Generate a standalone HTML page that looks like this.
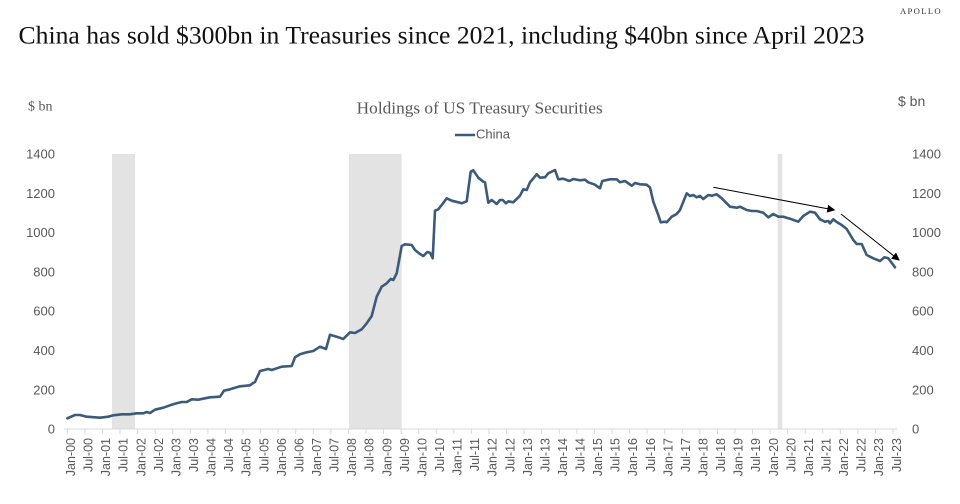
<!DOCTYPE html>
<html>
<head>
<meta charset="utf-8">
<style>
html,body{margin:0;padding:0;background:#fff;}
svg{display:block;}
</style>
</head>
<body>
<svg width="960" height="504" viewBox="0 0 960 504" xmlns="http://www.w3.org/2000/svg">
<rect width="960" height="504" fill="#fff"/>
<!-- header -->
<text x="900" y="14" font-family="Liberation Serif, serif" font-size="8" letter-spacing="1.2" fill="#333" textLength="42" lengthAdjust="spacingAndGlyphs">APOLLO</text>
<text x="18.5" y="43.5" font-family="Liberation Serif, serif" font-size="25" fill="#111" textLength="846" lengthAdjust="spacingAndGlyphs">China has sold $300bn in Treasuries since 2021, including $40bn since April 2023</text>

<!-- axis titles -->
<text x="28" y="110.5" font-family="Liberation Serif, serif" font-size="14" fill="#595959">$ bn</text>
<text x="898" y="106" font-family="Liberation Sans, sans-serif" font-size="14" fill="#595959">$ bn</text>
<text x="356.7" y="113.3" font-family="Liberation Serif, serif" font-size="16.5" fill="#595959" textLength="246" lengthAdjust="spacingAndGlyphs">Holdings of US Treasury Securities</text>
<line x1="455" y1="135" x2="475" y2="135" stroke="#3c5a7a" stroke-width="2.5"/>
<text x="476" y="138.3" font-family="Liberation Sans, sans-serif" font-size="13" fill="#595959">China</text>

<!-- recession bars -->
<rect x="112" y="154" width="23" height="275" fill="#e3e3e3"/>
<rect x="349" y="154" width="52.7" height="275" fill="#e3e3e3"/>
<rect x="777.7" y="154" width="4.6" height="275" fill="#e3e3e3"/>

<!-- y labels -->
<g font-family="Liberation Sans, sans-serif" font-size="13" fill="#595959">
<g text-anchor="end">
<text x="55" y="433.6">0</text>
<text x="55" y="394.3">200</text>
<text x="55" y="355.0">400</text>
<text x="55" y="315.7">600</text>
<text x="55" y="276.5">800</text>
<text x="55" y="237.2">1000</text>
<text x="55" y="197.9">1200</text>
<text x="55" y="158.6">1400</text>
</g>
<text x="912" y="433.6">0</text>
<text x="912" y="394.3">200</text>
<text x="912" y="355.0">400</text>
<text x="912" y="315.7">600</text>
<text x="912" y="276.5">800</text>
<text x="912" y="237.2">1000</text>
<text x="912" y="197.9">1200</text>
<text x="912" y="158.6">1400</text>
</g>

<!-- x axis -->
<line x1="64" y1="429" x2="897" y2="429" stroke="#d9d9d9" stroke-width="1"/>
<g stroke="#d9d9d9" stroke-width="1">
<path d="M67.3 429v5M84.87 429v5M102.44 429v5M120.01 429v5M137.58 429v5M155.15 429v5M172.72 429v5M190.29 429v5M207.86 429v5M225.43 429v5M243 429v5M260.57 429v5M278.14 429v5M295.71 429v5M313.28 429v5M330.85 429v5M348.42 429v5M365.99 429v5M383.56 429v5M401.13 429v5M418.7 429v5M436.27 429v5M453.84 429v5M471.41 429v5M488.98 429v5M506.55 429v5M524.12 429v5M541.69 429v5M559.26 429v5M576.83 429v5M594.4 429v5M611.97 429v5M629.54 429v5M647.11 429v5M664.68 429v5M682.25 429v5M699.82 429v5M717.39 429v5M734.96 429v5M752.53 429v5M770.1 429v5M787.67 429v5M805.24 429v5M822.81 429v5M840.38 429v5M857.95 429v5M875.52 429v5M893.09 429v5"/>
</g>
<g font-family="Liberation Sans, sans-serif" font-size="12.5" fill="#595959" text-anchor="end">
<text transform="translate(75,438) rotate(-90)">Jan-00</text>
<text transform="translate(92.57,438) rotate(-90)">Jul-00</text>
<text transform="translate(110.14,438) rotate(-90)">Jan-01</text>
<text transform="translate(127.71,438) rotate(-90)">Jul-01</text>
<text transform="translate(145.28,438) rotate(-90)">Jan-02</text>
<text transform="translate(162.85,438) rotate(-90)">Jul-02</text>
<text transform="translate(180.42,438) rotate(-90)">Jan-03</text>
<text transform="translate(197.99,438) rotate(-90)">Jul-03</text>
<text transform="translate(215.56,438) rotate(-90)">Jan-04</text>
<text transform="translate(233.13,438) rotate(-90)">Jul-04</text>
<text transform="translate(250.7,438) rotate(-90)">Jan-05</text>
<text transform="translate(268.27,438) rotate(-90)">Jul-05</text>
<text transform="translate(285.84,438) rotate(-90)">Jan-06</text>
<text transform="translate(303.41,438) rotate(-90)">Jul-06</text>
<text transform="translate(320.98,438) rotate(-90)">Jan-07</text>
<text transform="translate(338.55,438) rotate(-90)">Jul-07</text>
<text transform="translate(356.12,438) rotate(-90)">Jan-08</text>
<text transform="translate(373.69,438) rotate(-90)">Jul-08</text>
<text transform="translate(391.26,438) rotate(-90)">Jan-09</text>
<text transform="translate(408.83,438) rotate(-90)">Jul-09</text>
<text transform="translate(426.4,438) rotate(-90)">Jan-10</text>
<text transform="translate(443.97,438) rotate(-90)">Jul-10</text>
<text transform="translate(461.54,438) rotate(-90)">Jan-11</text>
<text transform="translate(479.11,438) rotate(-90)">Jul-11</text>
<text transform="translate(496.68,438) rotate(-90)">Jan-12</text>
<text transform="translate(514.25,438) rotate(-90)">Jul-12</text>
<text transform="translate(531.82,438) rotate(-90)">Jan-13</text>
<text transform="translate(549.39,438) rotate(-90)">Jul-13</text>
<text transform="translate(566.96,438) rotate(-90)">Jan-14</text>
<text transform="translate(584.53,438) rotate(-90)">Jul-14</text>
<text transform="translate(602.1,438) rotate(-90)">Jan-15</text>
<text transform="translate(619.67,438) rotate(-90)">Jul-15</text>
<text transform="translate(637.24,438) rotate(-90)">Jan-16</text>
<text transform="translate(654.81,438) rotate(-90)">Jul-16</text>
<text transform="translate(672.38,438) rotate(-90)">Jan-17</text>
<text transform="translate(689.95,438) rotate(-90)">Jul-17</text>
<text transform="translate(707.52,438) rotate(-90)">Jan-18</text>
<text transform="translate(725.09,438) rotate(-90)">Jul-18</text>
<text transform="translate(742.66,438) rotate(-90)">Jan-19</text>
<text transform="translate(760.23,438) rotate(-90)">Jul-19</text>
<text transform="translate(777.8,438) rotate(-90)">Jan-20</text>
<text transform="translate(795.37,438) rotate(-90)">Jul-20</text>
<text transform="translate(812.94,438) rotate(-90)">Jan-21</text>
<text transform="translate(830.51,438) rotate(-90)">Jul-21</text>
<text transform="translate(848.08,438) rotate(-90)">Jan-22</text>
<text transform="translate(865.65,438) rotate(-90)">Jul-22</text>
<text transform="translate(883.22,438) rotate(-90)">Jan-23</text>
<text transform="translate(900.79,438) rotate(-90)">Jul-23</text>
</g>

<!-- series -->
<polyline fill="none" stroke="#3c5a7a" stroke-width="2.6" stroke-linejoin="round" stroke-linecap="round" points="
67.3,418.3 75,415 80,415 86.7,416.7 100,417.7 108.3,416.7 113.3,415.3 121.7,414.3 130,414.3 136.7,413.3 143.3,413.3 146.7,412 150,413 155,409.7 163.3,407.7 170,405.3 176.7,403.3 181.7,402 186.7,402 191.7,399.3 198.3,399.7 205,398.3 210,397.3 220,396.7 224,390.7 230,389.3 240,386.3 250,385.3 252.7,383.3 255,382 260,371 268.3,369 271.7,370 281.7,366.7 291.7,366 295,357.3 300,354.3 306.7,352.3 313.3,351 320,346.7 326,349 330,334.7 336.7,336.7 343.3,339 350,332.3 355,333 361.7,329.3 366.7,323.3 371.7,316 376.7,296.7 381.7,286.7 386.7,283.3 390.7,279 393.3,280 396.7,273.3 401.7,246 405,244.3 411.7,245 415,250 420,254 423.3,256 427.3,252 430,252.7 432.7,258.3 435,210.7 438.3,209.3 441.7,205 446.7,198.3 451.7,200.7 458.3,202.3 461.7,203.3 466.7,201.3 470.7,171.7 473.3,170.3 478.3,177.7 483.3,181.7 485,182.3 488.3,202.7 491.7,200 496.7,204 500,200 502.7,200 506,203.3 508.3,201.3 513.3,202.3 520,195.7 523.3,189.3 526.7,190 530,182.3 536.7,174.3 540,177.7 545,177.3 548.3,173.3 555,170 558.3,179.3 563.3,178.7 569.3,181 573.3,179 580,180.3 585,179.7 588.3,182.3 595,184.7 596.7,186 600,188.3 602.3,181 610,179.3 616.7,179.3 620,182.3 625,181 631.7,185.7 635,183 640,184.3 646.7,184.7 650,187.5 653.3,201.7 658.3,215 660.7,222.3 665,221.7 666.7,222.3 671.7,216.7 676.7,214 680,210 686.7,193.3 690,196 693.3,195 696.7,197.3 700,196 703.3,199 708.3,195 711.7,195.7 716.7,194.3 721.7,198.3 730,206.7 736.7,207.7 740,206.7 746.7,210 751.7,211 756.7,211 763.3,212.7 768.3,217.3 773.3,214 778.3,216.7 783.3,216.7 790,218.7 798.3,221.7 803.3,216 810,211.7 815,212.7 820,219.3 825,221.7 828.3,221 830,223.3 833.3,219.3 836.7,222 841.7,225 846.7,229 853.3,240 856.7,244 861.7,244 866.7,255 873.3,258.3 880,261 884.3,257.3 888.3,258.3 895,267.3"/>

<!-- arrows -->
<defs>
<marker id="ah" markerWidth="8" markerHeight="8" refX="7" refY="4" orient="auto" markerUnits="userSpaceOnUse">
<path d="M0,0 L8,4 L0,8 z" fill="#000"/>
</marker>
</defs>
<line x1="713.3" y1="187.3" x2="834.3" y2="210" stroke="#000" stroke-width="1" marker-end="url(#ah)"/>
<line x1="841" y1="214" x2="899" y2="260" stroke="#000" stroke-width="1" marker-end="url(#ah)"/>
</svg>
</body>
</html>
